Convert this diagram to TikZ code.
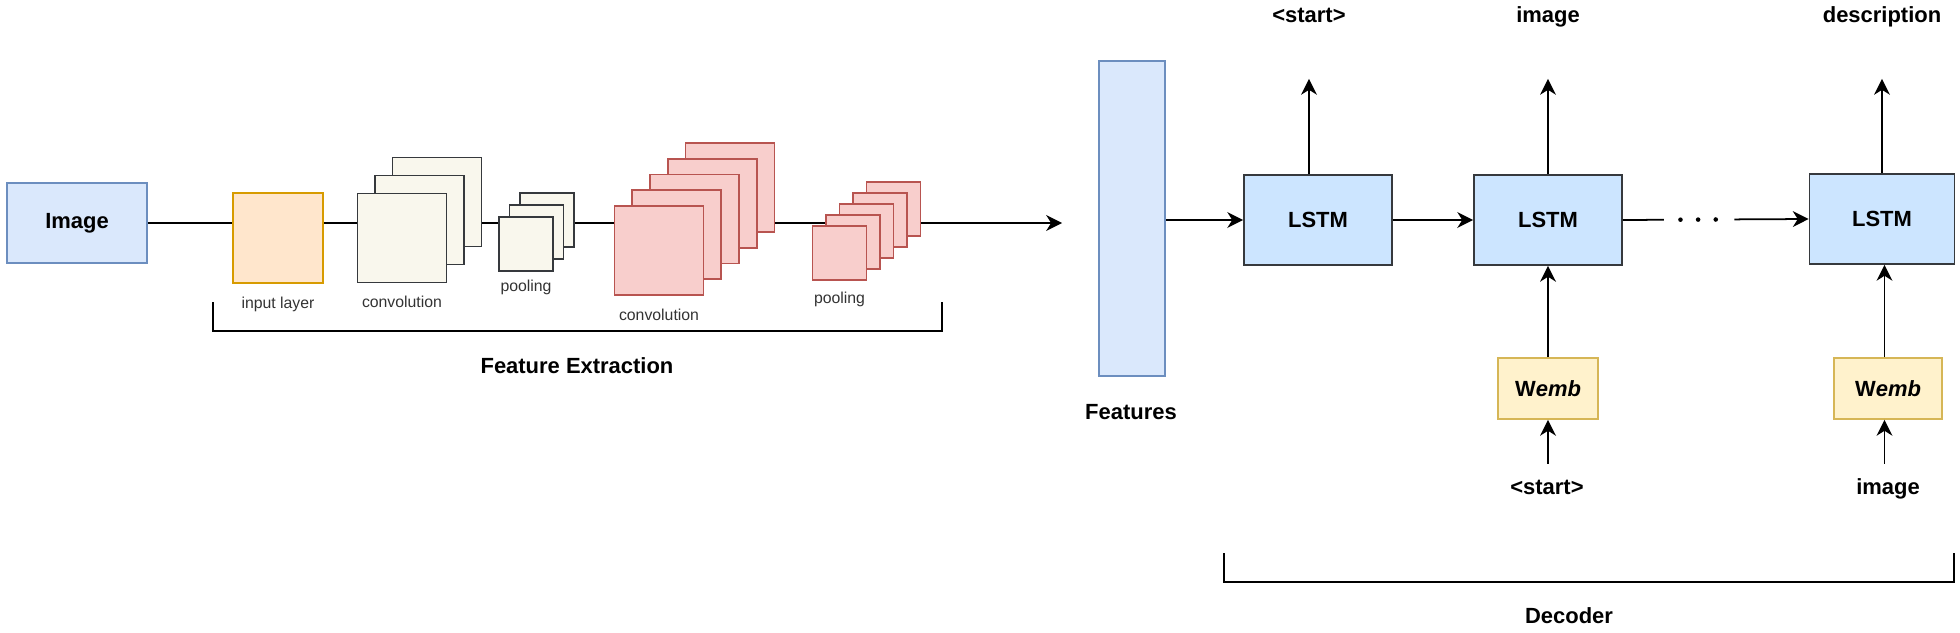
\documentclass[tikz,border=0pt]{standalone}
\usepackage{fontspec}
\setmainfont{Liberation Sans}
\usetikzlibrary{arrows.meta, positioning, calc}
\definecolor{bluefill}{HTML}{DAE8FC}
\definecolor{bluedraw}{HTML}{6C8EBF}
\definecolor{lstmfill}{HTML}{CCE5FF}
\definecolor{darkline}{HTML}{36393D}
\definecolor{orangefill}{HTML}{FFE6CC}
\definecolor{orangedraw}{HTML}{D79B00}
\definecolor{beigefill}{HTML}{F9F7ED}
\definecolor{redfill}{HTML}{F8CECC}
\definecolor{reddraw}{HTML}{B85450}
\definecolor{yellowfill}{HTML}{FFF2CC}
\definecolor{yellowdraw}{HTML}{D6B656}
\tikzset{>={Stealth[length=9pt,width=9pt,inset=2.8pt]}}

\begin{document}
\begin{tikzpicture}[x=0.02cm, y=-0.02cm, line width=1pt,
    every node/.style={font=\bfseries\fontsize{12.5}{15}\selectfont},
    blk/.style={draw=bluedraw, fill=bluefill},
    lstm/.style={draw=darkline, fill=lstmfill, minimum width=2.96cm, minimum height=1.8cm},
    wemb/.style={draw=yellowdraw, fill=yellowfill, minimum height=1.22cm},
    beige/.style={draw=darkline, fill=beigefill, line width=0.9pt},
    pink/.style={draw=reddraw, fill=redfill, line width=0.9pt},
    lbl/.style={font=\fontsize{9}{11}\selectfont, text=black!80, inner sep=1pt},
    word/.style={inner sep=0pt, text height=9pt, text depth=2.5pt}]
  \useasboundingbox (0,0) rectangle (1960,632);

  % encoder
  \node[blk, minimum width=2.8cm, minimum height=1.6cm] (img) at (77,223) {Image};
  \node[draw=orangedraw, fill=orangefill, minimum size=1.8cm] (inp) at (278,238) {};
  \node[lbl, below=6pt of inp] (inptxt) {input layer};

  \foreach \i in {2,1,0}
    \node[beige, minimum size=1.78cm] (conva\i) at ({402+17.5*\i},{238-18*\i}) {};
  \node[lbl, below=6pt of conva0] (convatxt) {convolution};

  \foreach \i in {2,1,0}
    \node[beige, minimum size=1.08cm] (poola\i) at ({526+10.5*\i},{244-12*\i}) {};
  \node[lbl, below=3pt of poola0] (poolatxt) {pooling};

  \foreach \i in {4,...,0}
    \node[pink, minimum size=1.78cm] (convb\i) at ({659+17.75*\i},{250.5-15.75*\i}) {};
  \node[lbl, below=6pt of convb0] (convbtxt) {convolution};

  \foreach \i in {4,...,0}
    \node[pink, minimum size=1.08cm] (poolb\i) at ({839.5+13.5*\i},{253-11*\i}) {};
  \node[lbl, below=5pt of poolb0] (poolbtxt) {pooling};

  \draw (img.east) -- (inp.west |- img.east);
  \draw (inp.east |- img.east) -- (conva0.west |- img.east);
  \draw (conva2.east |- img.east) -- (poola0.west |- img.east);
  \draw (poola2.east |- img.east) -- (convb0.west |- img.east);
  \draw (convb4.east |- img.east) -- (poolb1.west |- img.east);
  \coordinate (fend) at (1062,223);
  \draw[->] (poolb4.east |- img.east) -- (fend);

  \coordinate (fa) at (213,302);
  \coordinate (fb) at (942,302);
  \draw (fa) -- ++(0,29) -| (fb);
  \node (fetxt) at (577,366) {Feature Extraction};

  % decoder
  \node[blk, minimum width=1.32cm, minimum height=6.3cm] (feat) at (1132,218.5) {};
  \node (feattxt) at (1131,412) {Features};

  \node[lstm] (l1) at (1318,220) {LSTM};
  \node[lstm] (l2) at (1548,220) {LSTM};
  \node[lstm, minimum width=2.9cm] (l3) at (1882,219) {LSTM};

  \node[word] (o1) at (1309,17) {<start>};
  \node[word] (o2) at (1548,17) {image};
  \node[word] (o3) at (1882,17) {description};
  \foreach \k in {1,2,3}
    \draw[->, shorten >=29pt] (o\k |- l\k.north) -- (o\k.south);

  \draw[->] (feat.east |- l1.west) -- (l1.west);
  \draw[->] (l1.east) -- (l2.west);
  \draw (l2.east) -- ($(l2.east)!0.22!(l3.west)$);
  \foreach \t in {0.31,0.405,0.5}
    \fill ($(l2.east)!\t!(l3.west)$) circle (1.3pt);
  \draw[->] ($(l2.east)!0.6!(l3.west)$) -- (l3.west);

  \node[wemb, minimum width=2cm] (w1) at (1548,388.5) {W\textit{emb}};
  \node[wemb, minimum width=2.16cm] (w2) at (1888,388.5) {W\textit{emb}};
  \draw[->] (w1.north) -- (w1.north |- l2.south);
  \draw[->] ([xshift=-2pt]w2.north) -- ([xshift=-2pt]w2.north |- l3.south);

  \node[word] (s1) at (1547,489) {<start>};
  \node[word] (s2) at (1888,489) {image};
  \draw[->, shorten <=8pt] (w1.south |- s1.north) -- (w1.south);
  \draw[->, shorten <=8pt] ([xshift=-2pt]w2.south |- s2.north) -- ([xshift=-2pt]w2.south);

  \coordinate (da) at (1224,553);
  \coordinate (db) at (1954,553);
  \draw (da) -- ++(0,29) -| (db);
  \node (dectxt) at (1569,616) {Decoder};
\end{tikzpicture}
\end{document}
